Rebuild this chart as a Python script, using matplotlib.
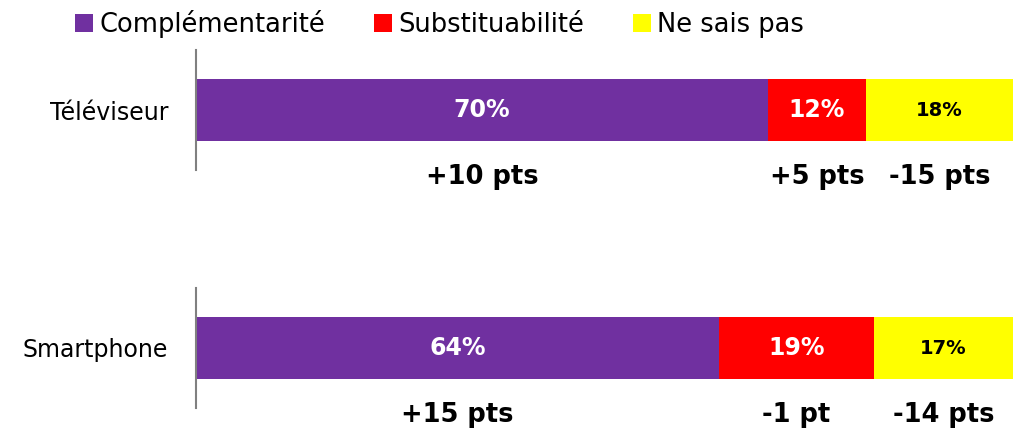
import numpy as np
import matplotlib.pyplot as plt
from matplotlib.patches import Patch

categories = ["Téléviseur", "Smartphone"]
series_names = ["Complémentarité", "Substituabilité", "Ne sais pas"]
complementarite = [70, 64]
substituabilite = [12, 19]
ne_sais_pas = [18, 17]
deltas = [["+10 pts", "+5 pts", "-15 pts"],
          ["+15 pts", "-1 pt", "-14 pts"]]

colors = ["#7030A0", "#FF0000", "#FFFF00"]
text_colors = ["white", "white", "black"]

plt.rcParams['font.family'] = ['DejaVu Sans']

fig = plt.figure(figsize=(10.13, 4.34), dpi=100)

# one small axes per category, like two stacked charts
rects = [[196/1013, (434-170)/434, 817/1013, 120/434],
         [196/1013, (434-408)/434, 817/1013, 120/434]]

values = np.array([complementarite, substituabilite, ne_sais_pas])

for i, cat in enumerate(categories):
	ax = fig.add_axes(rects[i])
	left = 0
	for j in range(3):
		v = values[j][i]
		ax.barh([0], [v], left=left, height=0.52, color=colors[j])
		fs = 17 if j < 2 else 14
		ax.text(left + v/2, 0, "%d%%" % v, ha='center', va='center',
			color=text_colors[j], fontsize=fs, fontweight='bold')
		ax.text(left + v/2, -0.56, deltas[i][j], ha='center', va='center',
			color='black', fontsize=18.5, fontweight='bold', clip_on=False)
		left += v
	ax.set_xlim(0, 100)
	ax.set_ylim(-0.5, 0.5)
	ax.set_yticks([0])
	ax.set_yticklabels([cat], fontsize=17)
	ax.tick_params(axis='y', length=0, pad=20)
	ax.set_xticks([])
	for s in ['top', 'right', 'bottom']:
		ax.spines[s].set_visible(False)
	ax.spines['left'].set_color('#808080')
	ax.spines['left'].set_linewidth(1.5)

handles = [Patch(facecolor=c, edgecolor='none') for c in colors]
fig.legend(handles, series_names, loc='center', bbox_to_anchor=(0.434, 1 - 24/434),
	ncol=3, frameon=False, fontsize=18.5, handlelength=0.7, handleheight=0.7,
	handletextpad=0.25, columnspacing=1.9, borderpad=0)

fig.savefig('out.png', dpi=100)
